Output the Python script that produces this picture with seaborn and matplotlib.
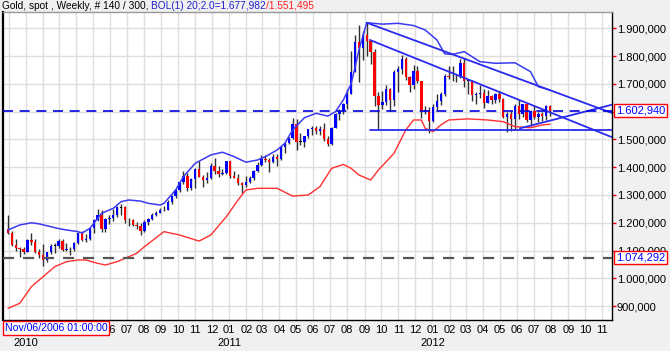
import numpy as np
import pandas as pd
import matplotlib
matplotlib.use("Agg")
import matplotlib.pyplot as plt
import matplotlib.transforms as mtransforms
import seaborn as sns

# Weekly gold candles, first bar = week of 2009-11-30
start = pd.Timestamp("2009-11-30")

opens = [1176, 1164, 1120, 1110, 1104, 1096, 1138, 1132, 1095, 1084,
         1066, 1093, 1118, 1118, 1134, 1102, 1107, 1105, 1126, 1162,
         1137, 1142, 1180, 1209, 1228, 1177, 1212, 1218, 1228, 1256,
         1256, 1210, 1210, 1191, 1189, 1170, 1204, 1215, 1227, 1236,
         1246, 1246, 1276, 1297, 1317, 1346, 1368, 1325, 1357, 1394,
         1366, 1353, 1362, 1406, 1385, 1376, 1380, 1421, 1369, 1361,
         1342, 1336, 1348, 1361, 1388, 1409, 1429, 1427, 1418, 1437,
         1429, 1474, 1486, 1504, 1556, 1492, 1492, 1512, 1536, 1542,
         1529, 1539, 1501, 1483, 1541, 1592, 1602, 1628, 1663, 1743,
         1852, 1828, 1877, 1856, 1814, 1657, 1624, 1636, 1682, 1642,
         1744, 1752, 1788, 1725, 1696, 1746, 1711, 1597, 1606, 1565,
         1616, 1640, 1665, 1730, 1725, 1724, 1725, 1774, 1711, 1711,
         1659, 1662, 1668, 1632, 1657, 1642, 1663, 1644, 1579, 1591,
         1573, 1622, 1590, 1626, 1571, 1604, 1579, 1590, 1585, 1619]
highs = [1227, 1170, 1142, 1113, 1113, 1140, 1162, 1141, 1104, 1123,
         1096, 1125, 1128, 1140, 1141, 1128, 1112, 1130, 1167, 1170,
         1160, 1181, 1212, 1249, 1245, 1217, 1227, 1250, 1262, 1266,
         1262, 1216, 1215, 1203, 1199, 1209, 1217, 1236, 1242, 1253,
         1259, 1283, 1300, 1320, 1349, 1387, 1379, 1361, 1398, 1424,
         1372, 1382, 1415, 1432, 1405, 1392, 1423, 1424, 1388, 1375,
         1348, 1369, 1370, 1391, 1417, 1445, 1444, 1434, 1448, 1448,
         1476, 1488, 1510, 1577, 1575, 1522, 1513, 1537, 1547, 1550,
         1549, 1560, 1512, 1545, 1594, 1610, 1632, 1681, 1817, 1877,
         1912, 1890, 1921, 1856, 1826, 1672, 1675, 1695, 1684, 1750,
         1764, 1803, 1796, 1727, 1767, 1764, 1711, 1620, 1615, 1628,
         1663, 1672, 1735, 1763, 1765, 1737, 1790, 1792, 1717, 1713,
         1672, 1697, 1683, 1677, 1660, 1666, 1674, 1648, 1597, 1601,
         1627, 1642, 1628, 1627, 1605, 1625, 1600, 1597, 1625, 1624]
lows = [1160, 1115, 1100, 1075, 1087, 1093, 1120, 1092, 1074, 1044,
        1057, 1087, 1092, 1109, 1100, 1097, 1085, 1100, 1123, 1134,
        1132, 1138, 1163, 1206, 1166, 1167, 1197, 1207, 1220, 1228,
        1199, 1188, 1190, 1177, 1157, 1167, 1192, 1210, 1225, 1235,
        1241, 1245, 1266, 1288, 1310, 1341, 1315, 1318, 1326, 1365,
        1330, 1342, 1358, 1376, 1365, 1371, 1377, 1362, 1360, 1335,
        1308, 1330, 1344, 1354, 1384, 1405, 1418, 1381, 1415, 1406,
        1426, 1450, 1482, 1503, 1462, 1481, 1474, 1505, 1516, 1520,
        1515, 1496, 1478, 1481, 1540, 1570, 1592, 1610, 1662, 1742,
        1705, 1787, 1800, 1772, 1620, 1535, 1610, 1625, 1603, 1622,
        1672, 1734, 1713, 1670, 1682, 1704, 1576, 1590, 1523, 1563,
        1605, 1625, 1656, 1718, 1709, 1707, 1722, 1688, 1663, 1640,
        1627, 1650, 1613, 1630, 1626, 1632, 1633, 1577, 1527, 1532,
        1533, 1573, 1582, 1562, 1547, 1575, 1564, 1567, 1570, 1583]
closes = [1164, 1120, 1110, 1104, 1096, 1138, 1132, 1095, 1084, 1066,
          1093, 1118, 1118, 1134, 1102, 1107, 1105, 1126, 1162, 1137,
          1142, 1180, 1209, 1228, 1177, 1212, 1218, 1228, 1256, 1256,
          1210, 1210, 1191, 1189, 1170, 1204, 1215, 1227, 1236, 1246,
          1246, 1276, 1297, 1317, 1346, 1368, 1325, 1357, 1394, 1366,
          1353, 1362, 1406, 1385, 1376, 1380, 1421, 1369, 1361, 1342,
          1336, 1348, 1361, 1388, 1409, 1429, 1427, 1418, 1437, 1429,
          1474, 1486, 1504, 1556, 1492, 1492, 1512, 1536, 1542, 1529,
          1539, 1501, 1483, 1541, 1592, 1602, 1628, 1663, 1743, 1852,
          1828, 1877, 1856, 1814, 1657, 1624, 1636, 1682, 1642, 1744,
          1752, 1788, 1725, 1696, 1746, 1711, 1597, 1606, 1565, 1616,
          1640, 1665, 1730, 1725, 1724, 1725, 1774, 1711, 1711, 1659,
          1662, 1668, 1632, 1657, 1642, 1663, 1644, 1579, 1591, 1573,
          1622, 1590, 1626, 1571, 1604, 1579, 1590, 1585, 1619, 1603]

# Bollinger bands (bar index, price)
upper_idx = [0, 3, 6, 8, 11, 13, 15, 18, 19, 21, 24, 27, 29, 31, 34, 36, 39, 40,
             43, 45, 48, 52, 55, 58, 61, 64, 66, 69, 71, 73, 76, 79, 82, 84, 86,
             88, 89, 90, 92, 96, 100, 104, 107, 110, 112, 114, 117, 121, 125,
             130, 134, 136, 139]
upper_val = [1174, 1192, 1200, 1196, 1186, 1179, 1174, 1168, 1163, 1180, 1234,
             1252, 1276, 1282, 1278, 1270, 1264, 1270, 1318, 1366, 1414, 1444,
             1454, 1438, 1418, 1426, 1438, 1462, 1486, 1534, 1578, 1594, 1584,
             1600, 1642, 1700, 1760, 1822, 1920, 1915, 1918, 1910, 1894, 1858,
             1808, 1806, 1816, 1780, 1774, 1776, 1744, 1690, 1678]
lower_idx = [0, 3, 6, 9, 12, 15, 18, 20, 23, 25, 28, 30, 33, 35, 40, 44, 49, 52,
             56, 59, 61, 64, 69, 73, 77, 80, 83, 86, 88, 90, 93, 95, 99, 102,
             104, 106, 107, 109, 111, 113, 118, 123, 127, 130, 134, 137, 139]
lower_val = [892, 910, 970, 1006, 1042, 1060, 1066, 1066, 1054, 1048, 1060, 1072,
             1090, 1114, 1168, 1156, 1134, 1156, 1222, 1282, 1318, 1324, 1324,
             1296, 1300, 1330, 1396, 1410, 1396, 1372, 1354, 1390, 1450, 1534,
             1570, 1570, 1540, 1528, 1552, 1570, 1574, 1570, 1564, 1546, 1542,
             1552, 1555]

# Trend lines drawn on the chart (bar index, price)
trend_a = ([92.0, 154.9], [1920, 1595])
trend_b = ([92.8, 154.9], [1858, 1508])
trend_c = ([131.3, 154.9], [1540, 1625])
support = ([92.8, 154.9], [1534, 1534])

last_price = 1602.940
level_price = 1074.292
y_ticks = [900, 1000, 1100, 1200, 1300, 1400, 1500, 1600, 1700, 1800, 1900]
month_starts = pd.date_range("2009-12-01", "2012-11-01", freq="MS")
hidden_until = pd.Timestamp("2010-05-01")  # these month labels sit under the date box
years = [2010, 2011, 2012]


def eu(v):
    s = f"{v:,.3f}"
    return s.replace(",", "X").replace(".", ",").replace("X", ".")


sns.set_style("white")
plt.rcParams["font.family"] = ["Liberation Sans", "DejaVu Sans"]

fig = plt.figure(figsize=(6.7, 3.51), dpi=100, facecolor="#f0f0f0")
ax = fig.add_axes([3 / 670, 31 / 351, 609 / 670, 308 / 351])
ax.set_facecolor("white")

x = np.arange(len(closes))
o = np.array(opens, float)
c = np.array(closes, float)
h = np.array(highs, float)
l = np.array(lows, float)

# wicks
ax.vlines(x, l, h, color="#303030", lw=1, zorder=2)
# bodies
body_col = np.where(c > o, "#0000ff", np.where(c < o, "#ff0000", "#000000"))
height = np.maximum(np.abs(c - o), 2.5)
bottom = np.where(np.abs(c - o) < 2.5, (o + c) / 2 - 1.25, np.minimum(o, c))
ax.bar(x, height, bottom=bottom, width=0.62, color=body_col, linewidth=0, zorder=3)

# Bollinger bands
sns.lineplot(x=upper_idx, y=upper_val, ax=ax, color="#3a3af0", lw=1.1, zorder=4)
sns.lineplot(x=lower_idx, y=lower_val, ax=ax, color="#ff3030", lw=1.0, zorder=4)

# trend lines
for xs, ys in (trend_a, trend_b, trend_c, support):
    ax.plot(xs, ys, color="#2a2aee", lw=1.3, zorder=5)

ax.axhline(last_price, color="#0000dd", lw=1.2, dashes=(6, 4), zorder=5)
ax.axhline(level_price, color="#555555", lw=1.6, dashes=(5, 4), zorder=5)

ax.set_xlim(-1.28, 154.9)
ax.set_ylim(850, 1958.7)

# axes / ticks
month_pos = [(d - start).days / 7 for d in month_starts]
ax.set_xticks(month_pos)
ax.set_xticklabels(["" if d < hidden_until else f"{d.month:02d}" for d in month_starts])
ax.set_yticks(y_ticks)
ax.set_yticklabels([eu(v) for v in y_ticks])
ax.yaxis.tick_right()
ax.tick_params(axis="both", colors="red", labelcolor="black", length=3,
               width=1, labelsize=8, direction="out", pad=0.5)
ax.grid(True, color="#dedede", lw=1)
ax.set_axisbelow(True)
ax.set_xlabel("")
ax.set_ylabel("")

for side in ("left", "bottom", "right"):
    ax.spines[side].set_color("black")
    ax.spines[side].set_linewidth(1)
ax.spines["left"].set_linewidth(1.6)
ax.spines["top"].set_color("#999999")
ax.spines["top"].set_linewidth(1)

ytrans = mtransforms.blended_transform_factory(ax.transData, ax.transAxes)
for yr in years:
    pos = (pd.Timestamp(f"{yr}-01-01") - start).days / 7
    ax.text(pos, -0.076, str(yr), transform=ytrans, ha="center", va="center",
            fontsize=8, color="black")

# boxed value labels on the right
rtrans = mtransforms.blended_transform_factory(ax.transAxes, ax.transData)
box = dict(facecolor="white", edgecolor="red", boxstyle="square,pad=0.15", lw=1)
for val in (last_price, level_price):
    ax.text(1.006, val, eu(val), transform=rtrans, ha="left", va="center",
            fontsize=8, color="#0000ff", bbox=box, zorder=10)

# date box bottom-left
fig.text(5 / 670, 1 - 328 / 351, "Nov/06/2006 01:00:00", ha="left", va="center",
         fontsize=7.6, color="#0000ff", bbox=box, zorder=10)

# title in three colours
fig.canvas.draw()
renderer = fig.canvas.get_renderer()
xpos = 2 / 670
for txt, col in (("Gold, spot , Weekly, # 140 / 300, ", "black"),
                 ("BOL(1) 20;2.0=1.677,982", "#2020d0"),
                 ("/1.551,495", "#ff2020")):
    t = fig.text(xpos, 1 - 6 / 351, txt, ha="left", va="center", fontsize=7.3, color=col)
    bb = t.get_window_extent(renderer=renderer)
    xpos = bb.x1 / fig.bbox.width

fig.savefig("out.png", dpi=100, facecolor=fig.get_facecolor())
